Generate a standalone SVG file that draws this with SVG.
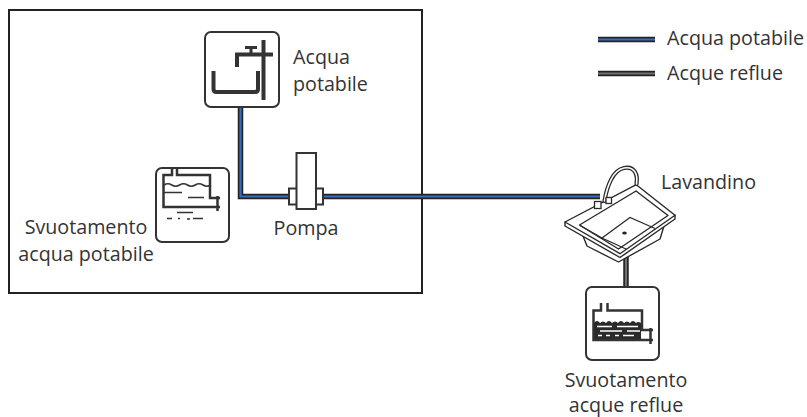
<svg xmlns="http://www.w3.org/2000/svg" width="807" height="417" viewBox="0 0 807 417">
  <style>
    .lbl { font-family: "Open Sans", "Noto Sans", sans-serif; font-size: 19.7px; fill: #333; }
    .box { fill: #fff; stroke: #333; stroke-width: 2; }
    .ln { fill: none; stroke: #333; stroke-width: 2.5; stroke-linecap: butt; }
    .thin { fill: none; stroke: #333; stroke-width: 1.5; }
    .pipe-o { fill: none; stroke: #222; stroke-width: 5.5; }
    .pipe-b { fill: none; stroke: #3a6cc0; stroke-width: 2.2; }
    .pipe-g { fill: none; stroke: #707070; stroke-width: 2.2; }
    .sink { fill: #fff; stroke: #2a2a2a; stroke-width: 1.4; stroke-linejoin: round; }
  </style>

  <rect width="807" height="417" fill="#fff"/>

  <!-- boundary of the unit -->
  <rect id="frame" x="9" y="10" width="413" height="283" fill="none" stroke="#222" stroke-width="2"/>

  <!-- connectors -->
  <g id="connectors">
    <path class="pipe-o" d="M240.5,107 V196.5 H600"/>
    <path class="pipe-b" d="M240.5,107 V196.5 H600"/>
    <path class="pipe-o" d="M626,255 V287"/>
    <path class="pipe-g" d="M626,255 V287"/>
  </g>

  <!-- drinking water tank -->
  <g id="acqua-potabile">
    <rect class="box" x="205" y="32" width="74" height="75" rx="6"/>
    <path d="M213.5,71 V89 Q213.5,92 216.5,92 H255 Q258,92 258,89 V71" fill="none" stroke="#333" stroke-width="4"/>
    <path d="M263.5,40 V100" fill="none" stroke="#333" stroke-width="4"/>
    <path d="M237,67 V54.5 H273" fill="none" stroke="#333" stroke-width="4"/>
    <path d="M245,47.5 H257 M251,47.5 V54" fill="none" stroke="#333" stroke-width="3"/>
    <text class="lbl" x="293" y="64">Acqua</text>
    <text class="lbl" x="293" y="91">potabile</text>
  </g>

  <!-- drinking water drain -->
  <g id="svuotamento-potabile">
    <rect class="box" x="156" y="168" width="73" height="74" rx="6"/>
    <path class="ln" d="M172,168 V175 H163.5 V207 H220 M177,168 V175 H210 V198 H220 M217.5,196 V211"/>
    <path class="thin" d="M164,185 q3.9,-2.5 7.8,0 t7.8,0 t7.8,0 t7.8,0 t7.8,0 t7.8,0"/>
    <path class="thin" d="M164,192.5 H182 M188,197.5 H204"/>
    <path class="thin" d="M177,212.5 H193"/>
    <path class="thin" d="M167,218.5 H172 M178,218.5 H180 M187,219 H190 M193,218.5 H203"/>
    <text class="lbl" x="86" y="234" text-anchor="middle">Svuotamento</text>
    <text class="lbl" x="86" y="261" text-anchor="middle">acqua potabile</text>
  </g>

  <!-- pump -->
  <g id="pompa">
    <rect x="289" y="188.5" width="34" height="16" fill="#fff" stroke="#333" stroke-width="2"/>
    <rect x="296.5" y="153" width="19.5" height="56" fill="#fff" stroke="#333" stroke-width="2"/>
    <text class="lbl" x="306" y="235" text-anchor="middle">Pompa</text>
  </g>

  <!-- sink -->
  <g id="lavandino">
    <!-- underside of the bowl -->
    <path class="sink" d="M583,236 L587,246 L618.5,262 L660,239 L664,226 Z"/>
    <!-- rim thickness -->
    <path class="sink" d="M565,222 L565,226 L620,257.5 L675,219 L675,215.3 Z"/>
    <!-- rim top -->
    <path class="sink" d="M565,222 L636.3,184.7 L675,215.3 L620,253.7 Z"/>
    <!-- opening -->
    <path class="sink" d="M579.5,225 L636,191 L668,215.5 L618.5,249 Z"/>
    <!-- bowl floor edges -->
    <path fill="none" stroke="#2a2a2a" stroke-width="1.3" d="M580,225.5 L602,238 L630,217.5 L655,228.5 M602,238 L627,249.5"/>
    <ellipse cx="624.5" cy="233" rx="2.3" ry="1.5" fill="#222"/>
    <!-- tap -->
    <path d="M604.5,201 C607,186 613,170 624,168 C635,166 638,175 636.5,184" fill="none" stroke="#2a2a2a" stroke-width="4.2" stroke-linecap="round"/>
    <path d="M604.5,201 C607,186 613,170 624,168 C635,166 638,175 636.5,184" fill="none" stroke="#fff" stroke-width="1.6" stroke-linecap="round"/>
    <rect x="594.5" y="201.5" width="6.5" height="7" fill="#fff" stroke="#2a2a2a" stroke-width="1.3"/>
    <rect x="606" y="197.5" width="5.5" height="6" fill="#fff" stroke="#2a2a2a" stroke-width="1.3"/>
    <text class="lbl" x="661" y="189">Lavandino</text>
  </g>

  <!-- waste water drain -->
  <g id="svuotamento-reflue">
    <rect class="box" x="586" y="287" width="73" height="73" rx="6"/>
    <path class="ln" d="M601,303 V310.5 H593.5 V340 H653 M607.5,303 V310.5 H642 V330 H653 M650.5,328 V344"/>
    <path d="M594,323 q3,-4 6,0 q3,-3 6,0 q3,-4 6,0 q3,-3 6,0 q3,-4 6,0 q3,-3 6,0 q3,-4 6,0 q2,-2 5,0 V339 H594 Z" fill="#2a2a2a"/>
    <path d="M597,326.5 H612 M617,326.5 H638 M600,331 H622 M627,331 H640 M598,335.5 H602 M606,335.5 H610 M615,335.5 H619 M623,335.5 H634" fill="none" stroke="#fff" stroke-width="1.3"/>
    <text class="lbl" x="626" y="387" text-anchor="middle">Svuotamento</text>
    <text class="lbl" x="626" y="412" text-anchor="middle">acque reflue</text>
  </g>

  <!-- legend -->
  <g id="legenda">
    <path class="pipe-o" d="M598,39.5 H655"/>
    <path class="pipe-b" d="M598,39.5 H655"/>
    <text class="lbl" x="667" y="45">Acqua potabile</text>
    <path class="pipe-o" d="M598,73.5 H655"/>
    <path class="pipe-g" d="M598,73.5 H655"/>
    <text class="lbl" x="667" y="80">Acque reflue</text>
  </g>
</svg>
